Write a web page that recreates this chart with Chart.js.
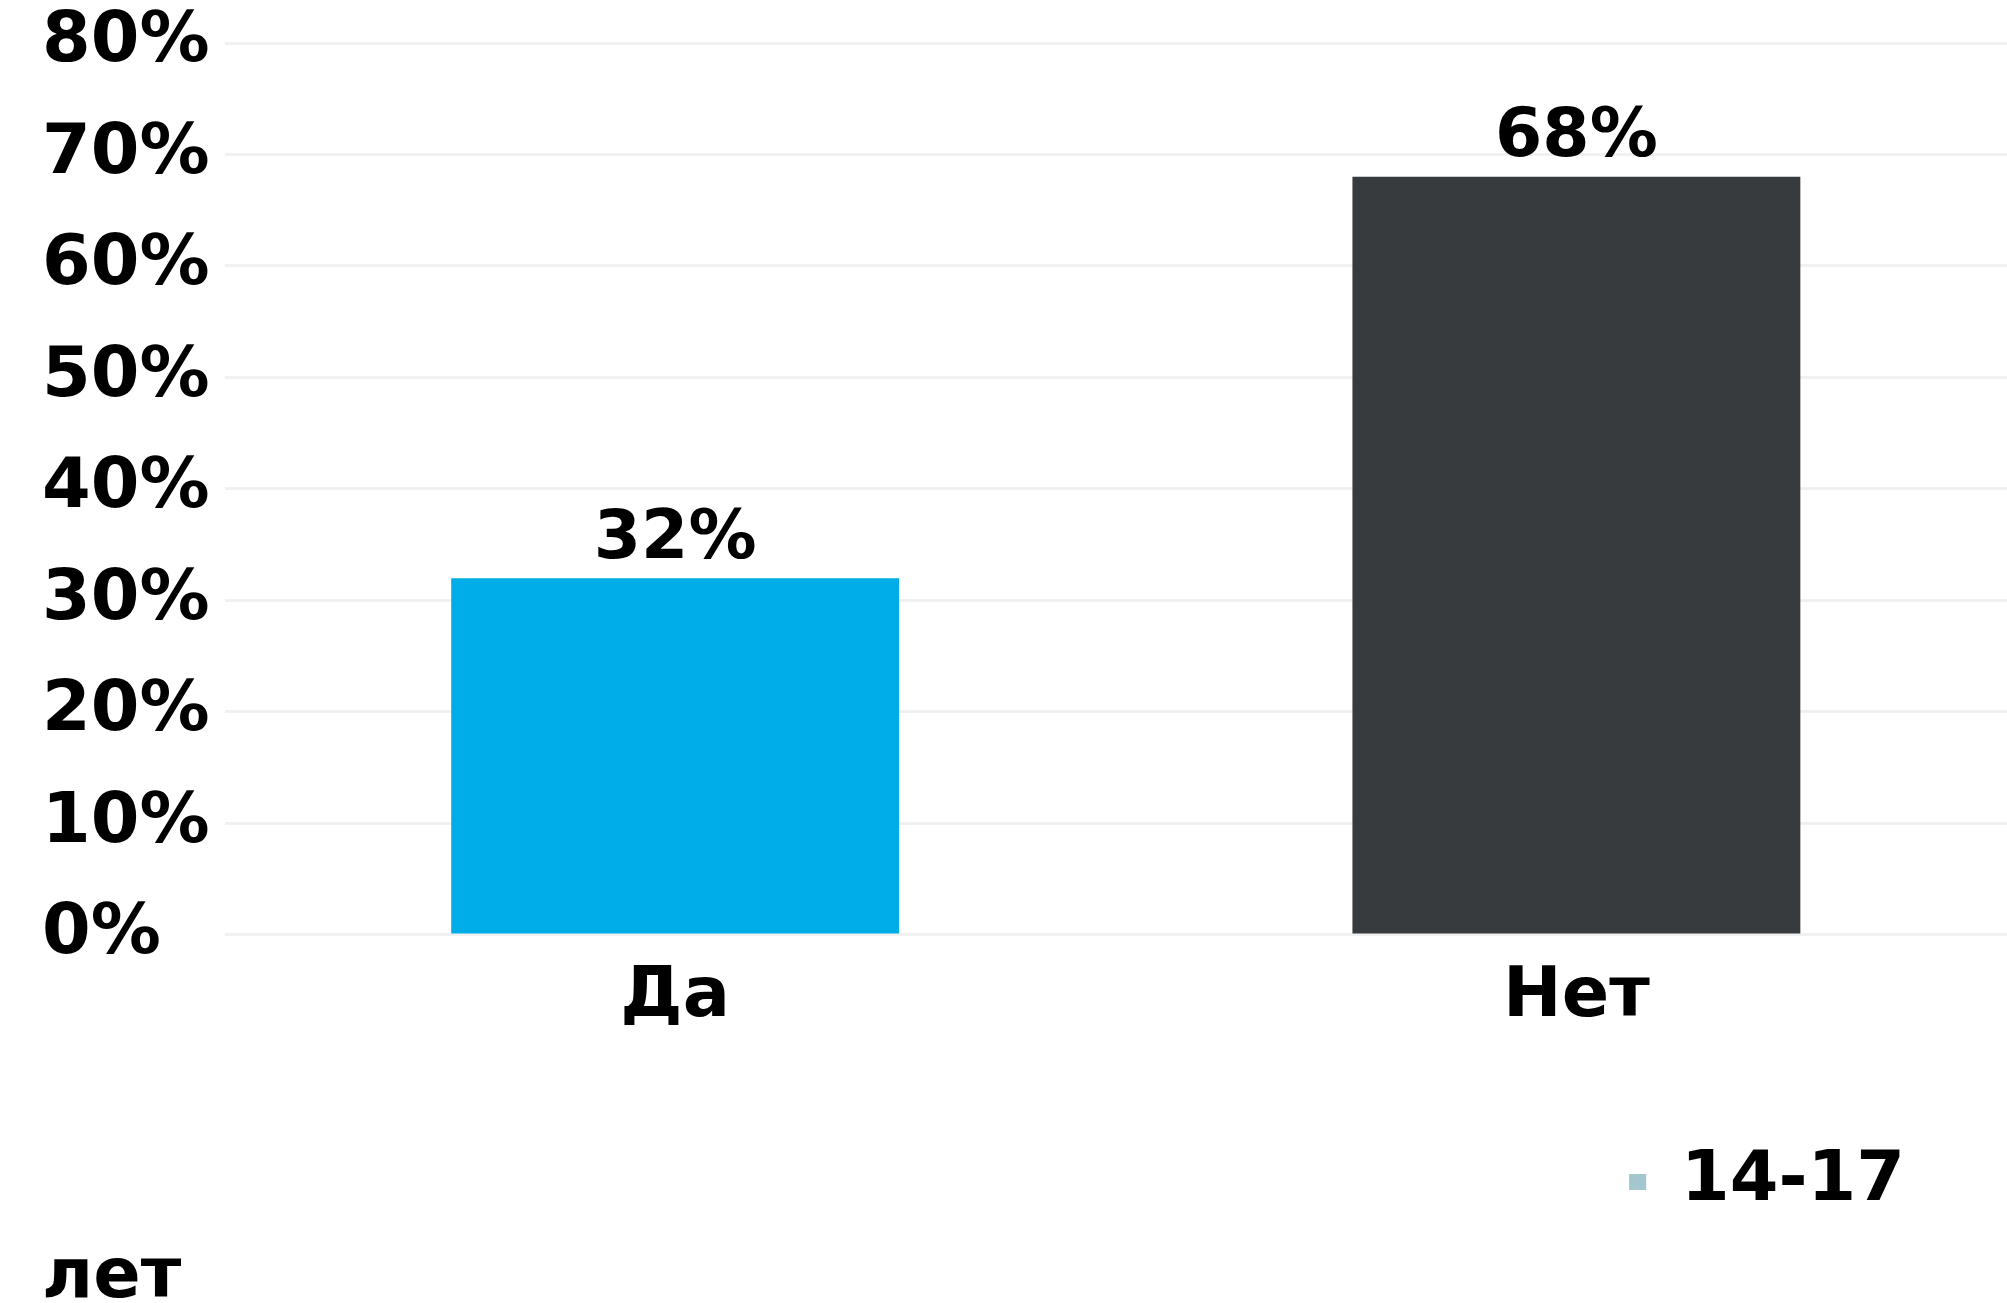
<!DOCTYPE html>
<html>
<head>
<meta charset="utf-8">
<script src="https://cdn.jsdelivr.net/npm/chart.js@4.4.1/dist/chart.umd.min.js"></script>
<style>
  html, body { margin: 0; padding: 0; background: #fff; overflow: hidden; }
  #wrap { width: 2027px; height: 1303px; position: relative; }
</style>
</head>
<body>
<div id="wrap"><canvas id="myChart"></canvas></div>
<script>
// data
var categories = ["Да", "Нет"];
var values = [32, 68];
var barColors = ["#00ade6", "#383b3d"];
var seriesLabel = "14-17";
var seriesTail = "лет";
var yMax = 80;

var font = "'DejaVu Sans', sans-serif";

// value labels above bars
var valueLabels = {
    id: 'valueLabels',
    afterDatasetsDraw: function(chart) {
        var ctx = chart.ctx;
        var meta = chart.getDatasetMeta(0);
        ctx.save();
        ctx.font = "bold 68px " + font;
        ctx.fillStyle = "#000";
        ctx.textAlign = "center";
        ctx.textBaseline = "middle";
        meta.data.forEach(function(bar, i) {
            ctx.fillText(values[i] + "%", bar.x, bar.y - 38);
        });
        ctx.restore();
    }
};

var ctx = document.getElementById("myChart");
var myChart = new Chart(ctx, {
    type: 'bar',
    data: {
        labels: categories,
        datasets: [{
            label: seriesLabel,
            data: values,
            backgroundColor: barColors,
            borderWidth: 0,
            barPercentage: 1,
            categoryPercentage: 0.497
        }]
    },
    options: {
        animation: { duration: 0 },
        responsive: true,
        maintainAspectRatio: false,
        layout: {
            padding: { left: 42, top: 43, right: 0, bottom: 0 }
        },
        scales: {
            x: {
                grid: { display: false, drawTicks: false },
                border: { display: false },
                ticks: {
                    color: "#000",
                    padding: 28,
                    font: { family: font, size: 70, weight: 'bold', lineHeight: 1 }
                },
                afterFit: function(scale) { scale.height = 90; }
            },
            y: {
                min: 0,
                max: yMax,
                grid: { color: "#f1f1f1", lineWidth: 3, drawTicks: false },
                border: { display: false },
                ticks: {
                    stepSize: 10,
                    color: "#000",
                    padding: 7.5,
                    crossAlign: 'far',
                    font: { family: font, size: 70, weight: 'bold', lineHeight: 1 },
                    callback: function(v) { return v + "%"; }
                }
            }
        },
        plugins: {
            legend: {
                display: true,
                position: 'bottom',
                align: 'end',
                labels: {
                    boxWidth: 17,
                    boxHeight: 16,
                    padding: 122,
                    color: "#000",
                    font: { family: font, size: 70, weight: 'bold' },
                    generateLabels: function() {
                        return [{
                            text: seriesLabel,
                            fillStyle: "#a3c6cf",
                            strokeStyle: "#a3c6cf",
                            lineWidth: 0,
                            hidden: false,
                            datasetIndex: 0
                        }];
                    }
                }
            },
            subtitle: {
                display: true,
                position: 'bottom',
                align: 'start',
                text: seriesTail,
                color: "#000",
                padding: { top: 28, bottom: 0 },
                font: { family: font, size: 70, weight: 'bold', lineHeight: 0.686 }
            },
            tooltip: { enabled: false }
        }
    },
    plugins: [valueLabels]
});
</script>
</body>
</html>
